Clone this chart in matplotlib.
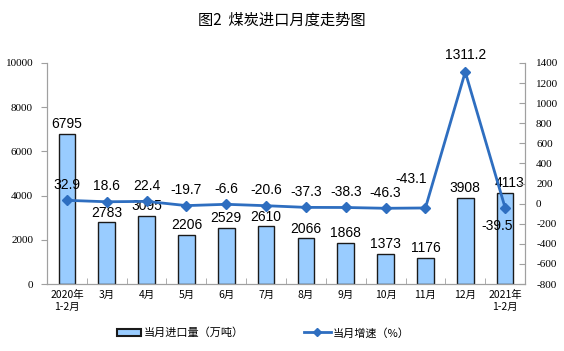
import matplotlib
matplotlib.use("Agg")
import matplotlib.pyplot as plt
import numpy as np
from matplotlib.patches import Patch
from matplotlib.lines import Line2D

plt.rcParams['font.family'] = ['Noto Sans CJK SC', 'DejaVu Sans']

categories = ["2020年\n1-2月", "3月", "4月", "5月", "6月", "7月", "8月", "9月", "10月", "11月", "12月", "2021年\n1-2月"]
imports = [6795, 2783, 3095, 2206, 2529, 2610, 2066, 1868, 1373, 1176, 3908, 4113]
growth = [32.9, 18.6, 22.4, -19.7, -6.6, -20.6, -37.3, -38.3, -46.3, -43.1, 1311.2, -39.5]
growth_labels = ["32.9", "18.6", "22.4", "-19.7", "-6.6", "-20.6", "-37.3", "-38.3", "-46.3", "-43.1", "1311.2", "-39.5"]
left_ticks = [0, 2000, 4000, 6000, 8000, 10000]
right_ticks = [-800, -600, -400, -200, 0, 200, 400, 600, 800, 1000, 1200, 1400]

bar_color = "#99CCFF"
line_color = "#2E6EC0"
spine_color = "#A0A0A0"

fig = plt.figure(figsize=(5.64, 3.51), dpi=100)
ax = fig.add_axes([47/564, 1-284/351, (525-47)/564, (284-63)/351])
ax2 = ax.twinx()

x = np.arange(len(categories))
ax.bar(x, imports, width=0.42, color=bar_color, edgecolor="#1a1a1a", linewidth=1.0, zorder=2)
ax.set_ylim(0, 10000)
ax.set_xlim(-0.5, len(categories)-0.5)
ax.set_yticks(left_ticks)
ax.set_yticklabels([str(t) for t in left_ticks], fontsize=8, family=['Liberation Serif'])
ax.set_xticks(x)
ax.set_xticklabels(categories, fontsize=7.5, family=['Noto Sans CJK SC'], linespacing=1.3)
ax.tick_params(axis='x', length=0, pad=4)
ax.set_xticks(np.arange(-0.5, len(categories)), minor=True)
ax.tick_params(axis='x', which='minor', length=4, color=spine_color, direction='in')
ax.tick_params(axis='y', length=4, color=spine_color, direction='out', pad=6)

ax2.plot(x, growth, color=line_color, linewidth=2, marker='D', markersize=5, zorder=3)
ax2.set_ylim(-800, 1400)
ax2.set_yticks(right_ticks)
ax2.set_yticklabels([str(t) for t in right_ticks], fontsize=8, family=['Liberation Serif'])
ax2.tick_params(axis='y', length=4, color=spine_color, direction='in', pad=8)

for a in (ax, ax2):
    for s in a.spines.values():
        s.set_color(spine_color)
    a.spines['top'].set_visible(False)

# bar labels
bar_dx = [0] * 11 + [3]
for xi, v, dx in zip(x, imports, bar_dx):
    ax.annotate(str(v), (xi, v), xytext=(dx, 2), textcoords='offset points',
                ha='center', va='bottom', fontsize=10, family=['Liberation Sans'])

# growth labels (offsets in points)
offsets = [(0, 6), (0, 6), (0, 6), (0, 6), (0, 6), (0, 6), (0, 6), (0, 6), (0, 6), (-10, 16), (0, 7), (-6, -8)]
for xi, v, lab, off in zip(x, growth, growth_labels, offsets):
    va = 'bottom' if off[1] > 0 else 'top'
    ax2.annotate(lab, (xi, v), xytext=off, textcoords='offset points',
                 ha='center', va=va, fontsize=10, family=['Liberation Sans'])

fig.text(0.5, 1-20/351, "图2  煤炭进口月度走势图", ha='center', va='center', fontsize=11)

# legend
h1 = Patch(facecolor=bar_color, edgecolor="#1a1a1a", linewidth=1.5)
h2 = Line2D([0], [0], color=line_color, linewidth=2, marker='D', markersize=4)
fig.legend([h1], ["当月进口量（万吨）"], loc='center', bbox_to_anchor=(180/564, 1-333/351),
           frameon=False, fontsize=8, handlelength=2.2, handleheight=0.5, handletextpad=0.2)
fig.legend([h2], ["当月增速（%）"], loc='center', bbox_to_anchor=(357/564, 1-333/351),
           frameon=False, fontsize=8, handlelength=2.4, handletextpad=0.2)

fig.savefig("out.png", dpi=100)
